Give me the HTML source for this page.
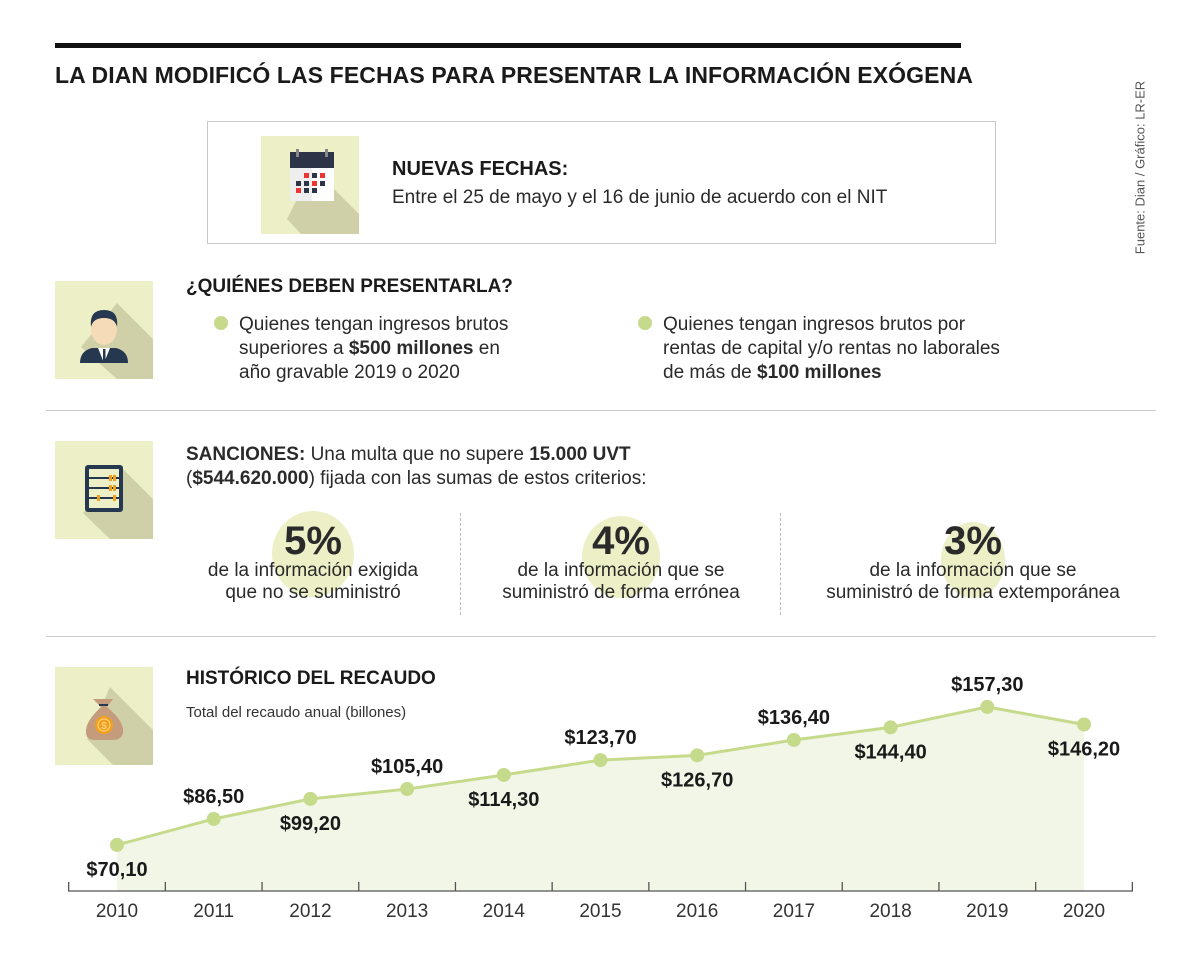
<!DOCTYPE html>
<html><head><meta charset="utf-8"><style>
body{margin:0;width:1200px;height:975px;background:#fff;font-family:"Liberation Sans",sans-serif;color:#1a1a1a;position:relative;overflow:hidden}
.a{position:absolute}
.ico{position:absolute;width:98px;height:98px;background:#edf0c6;overflow:hidden}
.b{font-weight:bold}
.dot{position:absolute;width:14px;height:14px;border-radius:50%;background:#c6da8c}
.t{font-size:19px;line-height:22px;color:#2a2a2a}
.n{font-family:"Liberation Sans Narrow","Liberation Sans",sans-serif}
</style></head><body>
<div class="a" style="left:55px;top:43px;width:906px;height:5px;background:#111"></div>
<div class="a b" style="left:55px;top:62px;font-size:23px;letter-spacing:0.1px;white-space:nowrap">LA DIAN MODIFICÓ LAS FECHAS PARA PRESENTAR LA INFORMACIÓN EXÓGENA</div>
<div class="a n" style="left:1040px;top:160px;width:200px;font-size:13px;color:#555;transform:rotate(-90deg);transform-origin:center;text-align:center">Fuente: Dian / Gráfico: LR-ER</div>

<div class="a" style="left:207px;top:121px;width:787px;height:121px;border:1px solid #c8c8c8"></div>
<div class="ico" style="left:261px;top:136px">
<svg width="98" height="98"><polygon points="52,32 98,78 98,98 40,98 26,83" fill="#cfd0a8"/><rect x="29" y="16" width="44" height="16" fill="#2d3447"/><rect x="29" y="32" width="44" height="33" fill="#eee"/><rect x="51" y="32" width="22" height="33" fill="#fff"/><rect x="35" y="13" width="3" height="8" fill="#888"/><rect x="64" y="13" width="3" height="8" fill="#888"/>
<g fill="#2d3447"><rect x="43" y="37" width="5" height="5" fill="#e33"/><rect x="51" y="37" width="5" height="5"/><rect x="59" y="37" width="5" height="5" fill="#e33"/><rect x="35" y="45" width="5" height="5"/><rect x="43" y="45" width="5" height="5"/><rect x="51" y="45" width="5" height="5" fill="#e33"/><rect x="59" y="45" width="5" height="5"/><rect x="35" y="52" width="5" height="5" fill="#e33"/><rect x="43" y="52" width="5" height="5"/><rect x="51" y="52" width="5" height="5"/></g></svg></div>
<div class="a b" style="left:392px;top:158px;font-size:20px">NUEVAS FECHAS:</div>
<div class="a t n" style="left:392px;top:187px">Entre el 25 de mayo y el 16 de junio de acuerdo con el NIT</div>

<div class="ico" style="left:55px;top:281px">
<svg width="98" height="98"><polygon points="62,22 98,58 98,98 62,98 26,66" fill="#cfd0a8"/><path d="M25,82 Q25,70 37,67 L61,67 Q73,70 73,82 Z" fill="#26384f"/><polygon points="43,67 55,67 49,82" fill="#fff"/><rect x="48" y="68" width="2.5" height="14" fill="#26384f"/><ellipse cx="49" cy="48" rx="13" ry="16" fill="#f6dcb6"/><path d="M36,46 Q34,29 49,29 Q64,29 62,46 Q60,37 49,37 Q38,37 36,46Z" fill="#26384f"/></svg></div>
<div class="a b" style="left:186px;top:276px;font-size:19px">¿QUIÉNES DEBEN PRESENTARLA?</div>
<div class="dot" style="left:214px;top:316px"></div>
<div class="a t" style="left:239px;top:313px;font-size:19px;line-height:24px">Quienes tengan ingresos brutos<br>superiores a <b>$500 millones</b> en<br>año gravable 2019 o 2020</div>
<div class="dot" style="left:638px;top:316px"></div>
<div class="a t" style="left:663px;top:313px;font-size:19px;line-height:24px">Quienes tengan ingresos brutos por<br>rentas de capital y/o rentas no laborales<br>de más de <b>$100 millones</b></div>
<div class="a" style="left:46px;top:410px;width:1110px;height:1px;background:#ccc"></div>

<div class="ico" style="left:55px;top:441px">
<svg width="98" height="98"><polygon points="68,28 98,58 98,98 55,98 28,72" fill="#cfd0a8"/><rect x="30" y="24" width="38" height="47" rx="3" fill="#26384f"/><rect x="34" y="28" width="30" height="39" fill="#edf0c6"/><g stroke="#26384f" stroke-width="2"><line x1="34" y1="37" x2="64" y2="37"/><line x1="34" y1="47" x2="64" y2="47"/><line x1="34" y1="57" x2="64" y2="57"/></g><g fill="#f0a020"><rect x="54" y="34" width="3" height="6"/><rect x="58" y="34" width="3" height="6"/><rect x="54" y="44" width="3" height="6"/><rect x="58" y="44" width="3" height="6"/><rect x="42" y="54" width="3" height="6"/><rect x="58" y="54" width="3" height="6"/></g></svg></div>
<div class="a t" style="left:186px;top:443px;font-size:19px;line-height:24px"><b>SANCIONES:</b> Una multa que no supere <b>15.000 UVT</b><br>(<b>$544.620.000</b>) fijada con las sumas de estos criterios:</div>

<div class="a" style="left:272px;top:511px;width:82px;height:86px;border-radius:50%;background:#edf0c6"></div>
<div class="a" style="left:582px;top:516px;width:78px;height:82px;border-radius:50%;background:#edf0c6"></div>
<div class="a" style="left:941px;top:522px;width:64px;height:76px;border-radius:50%;background:#edf0c6"></div>
<div class="a" style="left:460px;top:513px;height:102px;border-left:1px dashed #bbb"></div>
<div class="a" style="left:780px;top:513px;height:102px;border-left:1px dashed #bbb"></div>
<div class="a t" style="left:160px;top:522px;width:306px;text-align:center"><div class="b" style="font-size:40px;line-height:38px">5%</div>de la información exigida<br>que no se suministró</div>
<div class="a t" style="left:468px;top:522px;width:306px;text-align:center"><div class="b" style="font-size:40px;line-height:38px">4%</div>de la información que se<br>suministró de forma errónea</div>
<div class="a t" style="left:790px;top:522px;width:366px;text-align:center"><div class="b" style="font-size:40px;line-height:38px">3%</div>de la información que se<br>suministró de forma extemporánea</div>
<div class="a" style="left:46px;top:636px;width:1110px;height:1px;background:#ccc"></div>

<div class="ico" style="left:55px;top:667px">
<svg width="98" height="98"><polygon points="55,20 98,63 98,98 58,98 32,72" fill="#cfd0a8"/><path d="M38,32 L58,32 L52,40 Q70,55 68,66 Q66,73 58,73 L40,73 Q31,73 31,65 Q30,55 46,40 Z" fill="#c49c7c"/><rect x="44" y="37" width="9" height="2" fill="#26384f"/><circle cx="49" cy="58" r="9" fill="#f0a020"/><circle cx="49" cy="58" r="6" fill="none" stroke="#fbd070" stroke-width="1.2"/><text x="49" y="62" font-size="10" text-anchor="middle" fill="#fbd070" font-weight="bold">$</text></svg></div>
<div class="a b" style="left:186px;top:668px;font-size:19px">HISTÓRICO DEL RECAUDO</div>
<div class="a n" style="left:186px;top:704px;font-size:15px;color:#333">Total del recaudo anual (billones)</div>

<svg class="a" style="left:0;top:0" width="1200" height="975" id="chart"></svg>
<script>
const years=["2010","2011","2012","2013","2014","2015","2016","2017","2018","2019","2020"];
const values=[70.1,86.5,99.2,105.4,114.3,123.7,126.7,136.4,144.4,157.3,146.2];
const labels=["$70,10","$86,50","$99,20","$105,40","$114,30","$123,70","$126,70","$136,40","$144,40","$157,30","$146,20"];
const labelPos=["below","above","below","above","below","above","below","above","below","above","below"];
const NS="http://www.w3.org/2000/svg";
const svg=document.getElementById('chart');
const x=i=>117+i*96.7;
const y=v=>891-(v-41)*1.583;
function mk(t,a){const e=document.createElementNS(NS,t);for(const k in a)e.setAttribute(k,a[k]);svg.appendChild(e);return e;}
let d="M"+x(0)+",891";values.forEach((v,i)=>d+=" L"+x(i)+","+y(v));d+=" L"+x(values.length-1)+",891Z";
const area=mk('path',{d:d,fill:'#f1f6e7'});


const ax=mk('line',{x1:68,y1:891,x2:1133,y2:891,stroke:'#555','stroke-width':1.3});


for(let i=0;i<=years.length;i++){const tk=mk('line',{x1:x(i)-48.35,y1:882,x2:x(i)-48.35,y2:891,stroke:'#555','stroke-width':1.3});

}
years.forEach((yr,i)=>{const t=mk('text',{x:x(i),y:917,'text-anchor':'middle','font-size':19,fill:'#333','font-family':'Liberation Sans Narrow, Liberation Sans, sans-serif'});t.textContent=yr;

});
const ln=mk('polyline',{points:values.map((v,i)=>x(i)+","+y(v)).join(" "),fill:'none',stroke:'#c6da8c','stroke-width':3});


values.forEach((v,i)=>{const c=mk('circle',{cx:x(i),cy:y(v),r:7,fill:'#c6da8c'});


const t=mk('text',{x:x(i),y:labelPos[i]==='above'?y(v)-16:y(v)+31,'text-anchor':'middle','font-size':20,'font-weight':'bold',fill:'#1a1a1a'});t.textContent=labels[i];

});
</script>
</body></html>
